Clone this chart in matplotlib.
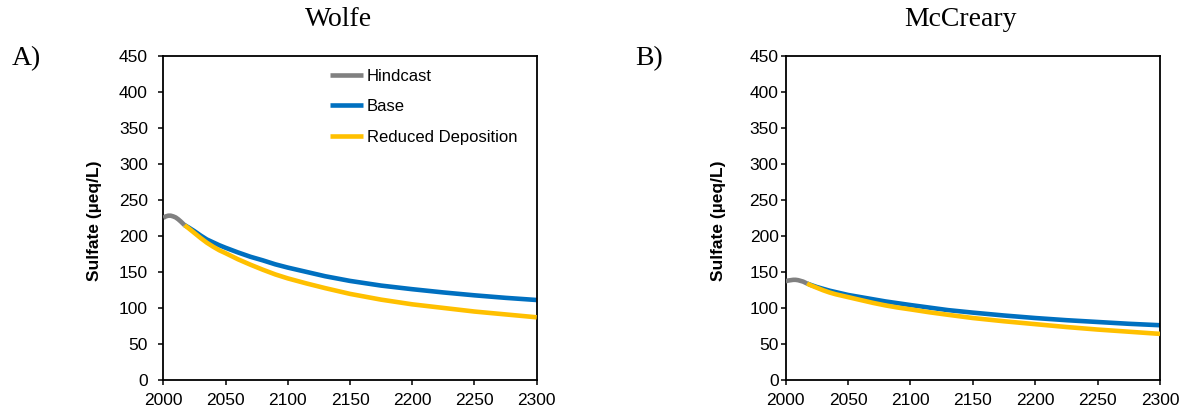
import matplotlib.pyplot as plt

hind_years = [2000, 2002, 2004, 2006, 2008, 2010, 2012, 2014, 2017]
proj_years = [2017, 2020, 2025, 2030, 2035, 2040, 2045, 2050, 2060, 2070, 2080, 2090,
              2100, 2115, 2130, 2150, 2175, 2200, 2225, 2250, 2275, 2300]

wolfe_hind = [225, 227, 228, 228, 227, 225.5, 223, 220, 215]
wolfe_base = [215, 212, 206.5, 200.5, 195, 191, 187, 183.5, 177, 171, 166, 160.5,
              156, 150, 144, 137.5, 131, 126, 121.5, 117.5, 114, 111]
wolfe_red = [215, 211, 204, 197, 190.5, 185, 180, 176, 167.5, 160, 153, 146.5,
             141, 134, 127.5, 119.5, 111.5, 105, 100, 95, 91, 87]

mccr_hind = [137, 138, 138.5, 139, 139, 138.5, 137.5, 136.5, 134]
mccr_base = [134, 132, 129, 126.5, 124, 122, 120, 118, 115, 112, 109, 106.5,
             104, 100.5, 97, 93.5, 89.5, 86, 83, 80.5, 78, 76]
mccr_red = [134, 131.5, 128, 124.5, 121.5, 119, 117, 115, 111, 107, 103.5, 100.5,
            98, 94, 90.5, 86, 81.5, 77.5, 73.5, 70, 67, 64]

x_ticks = [2000, 2050, 2100, 2150, 2200, 2250, 2300]
y_ticks = [0, 50, 100, 150, 200, 250, 300, 350, 400, 450]

GRAY = '#808080'
BLUE = '#0070C0'
GOLD = '#FFC000'

W, H = 1188, 416
fig = plt.figure(figsize=(W / 100, H / 100), dpi=100)
plt.rcParams['font.family'] = ['Liberation Sans', 'DejaVu Sans']


def make_axes(left_px, right_px, ypad):
    top_px, bot_px = 55.7, 380
    ax = fig.add_axes([left_px / W, 1 - bot_px / H, (right_px - left_px) / W, (bot_px - top_px) / H])
    ax.set_xlim(2000, 2300)
    ax.set_ylim(0, 450)
    ax.set_xticks(x_ticks)
    ax.set_yticks(y_ticks)
    ax.tick_params(axis='y', direction='out', length=3.6, width=1.1, labelsize=12.5, pad=ypad)
    ax.tick_params(axis='x', direction='out', length=3.6, width=1.1, labelsize=12.5, pad=6)
    for s in ax.spines.values():
        s.set_linewidth(1.3)
        s.set_color('black')
    return ax


def draw(ax, hind, base, red):
    ax.plot(proj_years, red, color=GOLD, lw=3.3, label='Reduced Deposition', solid_capstyle='butt', zorder=3)
    ax.plot(proj_years, base, color=BLUE, lw=3.3, label='Base', solid_capstyle='butt', zorder=2)
    ax.plot(hind_years, hind, color=GRAY, lw=3.3, label='Hindcast', solid_capstyle='butt', zorder=4)


ax1 = make_axes(163.3, 536.7, 7.5)
draw(ax1, wolfe_hind, wolfe_base, wolfe_red)
ax2 = make_axes(785.7, 1160, 1.5)
draw(ax2, mccr_hind, mccr_base, mccr_red)

# legend in left panel, order Hindcast / Base / Reduced
h, l = ax1.get_legend_handles_labels()
order = [2, 1, 0]
ax1.legend([h[i] for i in order], [l[i] for i in order], loc='upper left',
           bbox_to_anchor=(330 / W, 1 - 69 / H), bbox_transform=fig.transFigure,
           frameon=False, fontsize=12, handlelength=2.0, handletextpad=0.2,
           labelspacing=0.92, borderpad=0, borderaxespad=0)

# y labels
for xc in (95, 718):
    fig.text(xc / W, 1 - 221 / H, 'Sulfate (µeq/L)', rotation=90, ha='center', va='center',
             fontsize=12.5, fontweight='bold')

# titles and panel letters
serif = ['Liberation Serif', 'DejaVu Serif']
fig.text(338.5 / W, 1 - 26 / H, 'Wolfe', ha='center', va='baseline', fontsize=20, family=serif)
fig.text(960.5 / W, 1 - 26 / H, 'McCreary', ha='center', va='baseline', fontsize=20, family=serif)
fig.text(12 / W, 1 - 65.5 / H, 'A)', ha='left', va='baseline', fontsize=20, family=serif)
fig.text(635 / W, 1 - 65 / H, 'B)', ha='left', va='baseline', fontsize=20, family=serif)

fig.savefig('out.png', dpi=100)
